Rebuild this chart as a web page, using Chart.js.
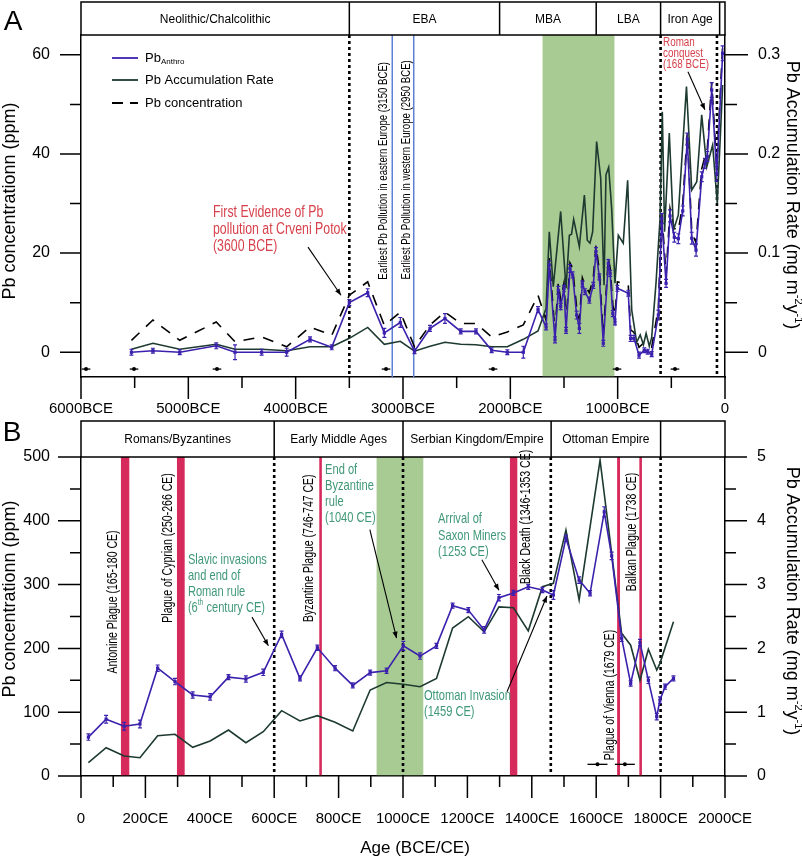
<!DOCTYPE html>
<html>
<head>
<meta charset="utf-8">
<title>Pb record</title>
<script src="https://cdn.jsdelivr.net/npm/chart.js@4.4.1/dist/chart.umd.min.js"></script>
<style>
  html, body { margin: 0; padding: 0; background: #fff; }
  #page { position: relative; width: 802px; height: 857px; overflow: hidden; }
  canvas { position: absolute; left: 0; }
  #graphicA { top: 0; }
  #graphicB { top: 420px; }
</style>
</head>
<body>
<div id="page">
  <canvas id="graphicA" width="802" height="430"></canvas>
  <canvas id="graphicB" width="802" height="437"></canvas>
</div>
<script>
const FONT = 'Arial, "Liberation Sans", Helvetica, sans-serif';
Chart.defaults.font.family = FONT;
Chart.defaults.color = "#000";

const BLUE = "#3b21ad";
const DARK = "#1d3a30";
const RED_TXT = "#d7424c";
const GREEN_TXT = "#3f9877";
const PLAGUE = "#d62a5c";
const GREEN_BAND = "#a8cb93";

// ---------- panel A (BCE years as negatives) ----------
const yearsAnthroA = [
  -5530, -5330, -5080, -4740, -4565, -4317, -4084, -3866, -3664, -3500,
  -3329, -3174, -3025, -2893, -2748, -2609, -2462, -2320, -2174, -2028,
  -1879, -1742, -1667, -1637, -1584, -1553, -1531, -1500, -1481, -1444,
  -1420, -1382, -1357, -1329, -1304, -1264, -1227, -1202, -1171, -1134,
  -1087, -1070, -1045, -1025, -1003, -901, -879, -848, -801, -752,
  -720, -683, -621, -590, -549, -512, -472, -435, -394, -351,
  -310, -270, -217, -186, -165, -124, -77, -22];
const anthroA = [
  0, 0.3, 0, 1.3, 0, 0, 0, 2.6, 1.0, 10,
  12, 3.9, 6, 0.2, 4.8, 6.8, 4.2, 4.2, 0.4, 0,
  0, 8.6, 5.1, 17.6, 2.5, 12.5, 9.2, 12.9, 4.4, 16.9,
  15.6, 7.5, 4.8, 13.8, 12.2, 10.5, 13.5, 20.3, 15.2, 1.8,
  17.9, 15.9, 7.8, 6.1, 12.9, 11.9, 2.8, 2.8, -0.6, 0.4,
  0.1, -0.4, 7.5, 27, 13.9, 27.5, 23.2, 22.9, 28.5, 43,
  23, 20.6, 35.4, 38.1, 39.5, 52.9, 36, 60.3];
const errAnthroA = [
  0.6, 0.5, 0.5, 0.6, 1.5, 0.6, 0.8, 0.5, 0.5, 0.6,
  0.8, 0.9, 1.0, 0.5, 0.6, 1.0, 0.5, 0.5, 0.5, 0.5,
  1.2, 0.6, 0.6, 0.8, 0.6, 0.8, 0.6, 0.6, 0.6, 0.8,
  0.6, 0.8, 1.0, 0.6, 0.6, 0.6, 0.6, 0.8, 0.6, 0.6,
  0.8, 0.6, 0.6, 0.6, 0.6, 0.6, 0.6, 0.6, 0.6, 0.5,
  0.5, 0.5, 1.0, 1.0, 0.8, 1.2, 1.0, 1.0, 1.0, 1.2,
  1.2, 1.2, 1.0, 1.0, 1.0, 1.5, 1.5, 1.5];
const yearsConcA = yearsAnthroA;
const concA = [
  2.4, 6.5, 2.4, 6.1, 2.1, 3.1, 1.1, 5.1, 3.4, 11.5,
  14.2, 5.4, 8.1, 1.1, 5.5, 8.1, 5.8, 5.8, 3.1, 4.1,
  5.5, 11.5, 6.5, 19, 4, 14, 10.5, 14, 6, 18,
  17, 9, 6.5, 15, 13.5, 12, 15, 21.5, 16.5, 3.5,
  19, 17, 9.5, 7.5, 14.2, 13.5, 4.5, 4, 1, 2,
  1.5, 1, 9, 28.5, 15.5, 29, 25, 24.5, 30, 44.5,
  24.5, 22, 37, 39.5, 41, 54.5, 37.5, 62];
const yearsRateA = [
  -5530, -5330, -5080, -4740, -4565, -4317, -4084, -3866, -3664, -3500,
  -3329, -3174, -3025, -2893, -2748, -2609, -2462, -2320, -2174, -2028,
  -1879, -1742, -1667, -1637, -1600, -1531, -1481, -1450, -1430, -1410,
  -1357, -1310, -1283, -1258, -1233, -1196, -1158, -1127, -1109, -1084,
  -1056, -1025, -994, -948, -907, -869, -823, -790, -760, -735,
  -705, -683, -643, -605, -584, -563, -519, -480, -435, -359,
  -310, -263, -217, -170, -115, -72, -22];
const rateA = [
  0.003, 0.009, 0.003, 0.008, 0.003, 0.003, 0.0015, 0.0055, 0.0055, 0.014,
  0.025, 0.008, 0.011, 0.001, 0.006, 0.010, 0.008, 0.0075, 0.0055, 0.0055,
  0.013, 0.0215, 0.044, 0.1215, 0.066, 0.142, 0.0645, 0.118, 0.119, 0.134,
  0.1065, 0.1585, 0.113, 0.11, 0.1215, 0.2125, 0.1755, 0.0675, 0.179, 0.1865,
  0.145, 0.0695, 0.118, 0.11, 0.1735, 0.0425, 0.01, 0.0175, 0.0075, 0.019,
  0.006, 0.015, 0.0695, 0.135, 0.2425, 0.1215, 0.221, 0.123, 0.1385, 0.268,
  0.1635, 0.172, 0.2395, 0.187, 0.209, 0.15, 0.2695];
const ageMarksA = [-5953, -5506, -4733, -3158, -2161, -1006, -466];

const periodEdgesA = [-6000, -3500, -2100, -1200, -600, -50, 0];
const periodNamesA = ["Neolithic/Chalcolithic", "EBA", "MBA", "LBA", "Iron Age", ""];

// ---------- panel B (CE) ----------
const yearsAnthroB = [
  23, 78, 134, 183, 238, 292, 347, 401, 458, 512,
  566, 623, 680, 734, 789, 844, 898, 949, 1001, 1053,
  1104, 1154, 1203, 1252, 1298, 1343, 1389, 1433, 1467, 1506,
  1547, 1581, 1625, 1648, 1679, 1707, 1736, 1762, 1788, 1798,
  1814, 1840];
const anthroB = [
  61, 89, 78, 81.5, 169, 148, 127, 124, 155, 152,
  162.5, 222, 153, 201, 169, 142, 162, 165, 204, 188,
  204, 267, 260, 229, 279.5, 287, 296.5, 291.5, 283.7, 372.6,
  307, 286.4, 414, 345, 216, 145, 209, 150, 93, 119,
  140, 153];
const errAnthroB = [
  5, 6, 6, 6, 5, 5, 5, 5, 4, 5,
  5, 5, 4, 4, 4, 4, 4, 4, 7, 5,
  4, 4, 4, 5, 5, 4, 4, 4, 7, 5,
  5, 4, 8, 6, 5, 4, 5, 5, 5, 5,
  4, 4];
const yearsRateB = [
  23, 78, 134, 183, 238, 292, 347, 401, 458, 512,
  566, 623, 680, 734, 789, 844, 898, 949, 1001, 1053,
  1104, 1154, 1203, 1252, 1298, 1343, 1389, 1433, 1467, 1506,
  1547, 1612, 1679, 1707, 1736, 1762, 1788, 1798, 1840];
const rateB = [
  0.208, 0.444, 0.313, 0.287, 0.632, 0.654, 0.45, 0.549, 0.72, 0.522,
  0.694, 1.024, 0.862, 0.945, 0.842, 0.705, 1.348, 1.466, 1.437, 1.4,
  1.53, 2.32, 2.497, 2.26, 2.65, 2.638, 2.275, 2.967, 3.02, 3.856,
  2.76, 4.95, 2.237, 2.05, 1.5, 1.986, 1.66, 1.766, 2.418];
const ageMarksB = [1604, 1689];

const periodEdgesB = [0, 600, 1000, 1460, 1800, 2000];
const periodNamesB = ["Romans/Byzantines", "Early Middle Ages", "Serbian Kingdom/Empire", "Ottoman Empire", ""];

const plagues = [[124, 150], [298, 322], [740, 748], [1332, 1355], [1665, 1674], [1734, 1742]];

// ---------- helpers ----------
const pts = (xs, ys) => xs.map((x, i) => ({ x, y: ys[i] }));

function rich(ctx, segs, x, y, size, align) {
  const small = Math.round(size * 0.62);
  let w = 0;
  segs.forEach(([t, m]) => { ctx.font = (m ? small : size) + "px " + FONT; w += ctx.measureText(t).width; });
  let cx = align === "center" ? x - w / 2 : x;
  ctx.textAlign = "left";
  ctx.textBaseline = "middle";
  segs.forEach(([t, m]) => {
    ctx.font = (m ? small : size) + "px " + FONT;
    const dy = m === 1 ? -size * 0.35 : m === -1 ? size * 0.3 : 0;
    ctx.fillText(t, cx, y + dy);
    cx += ctx.measureText(t).width;
  });
}

function arrow(ctx, x1, y1, x2, y2) {
  ctx.beginPath(); ctx.moveTo(x1, y1); ctx.lineTo(x2, y2); ctx.stroke();
  const a = Math.atan2(y2 - y1, x2 - x1), L = 7, w = 0.38;
  ctx.beginPath();
  ctx.moveTo(x2, y2);
  ctx.lineTo(x2 - L * Math.cos(a - w), y2 - L * Math.sin(a - w));
  ctx.lineTo(x2 - L * Math.cos(a + w), y2 - L * Math.sin(a + w));
  ctx.closePath(); ctx.fill();
}

// fixed axis boxes so the plot area sits where the figure has it
function noPad(s) { s.paddingTop = 0; s.paddingBottom = 0; s.paddingLeft = 0; s.paddingRight = 0; }

function axisX(min, max, step, height, pad, fmt) {
  return {
    type: "linear", min, max,
    afterFit: s => { s.height = height; noPad(s); },
    grid: { drawOnChartArea: false, drawTicks: false },
    border: { color: "#000", width: 1.5 },
    ticks: { stepSize: step, autoSkip: false, maxRotation: 0, padding: pad, color: "#000", font: { size: 15 }, callback: fmt }
  };
}
function axisY(pos, min, max, step, width, pad, fmt) {
  return {
    type: "linear", position: pos, min, max,
    afterFit: s => { s.width = width; noPad(s); },
    grid: { drawOnChartArea: false, drawTicks: false },
    border: { color: "#000", width: 1.5 },
    ticks: { stepSize: step, includeBounds: false, autoSkip: false, padding: pad, color: "#000", font: { size: 16 }, callback: fmt }
  };
}

function backdrop(bands, lines) {
  return {
    id: "backdrop",
    beforeDatasetsDraw(chart) {
      const { ctx, chartArea: a, scales: { x } } = chart;
      ctx.save();
      bands.forEach(b => {
        const l = x.getPixelForValue(b.from), r = x.getPixelForValue(b.to);
        ctx.fillStyle = b.color;
        ctx.fillRect(l, a.top, r - l, a.bottom - a.top - 0.8);
      });
      lines.forEach(ln => {
        const p = x.getPixelForValue(ln.at);
        ctx.strokeStyle = ln.color; ctx.lineWidth = ln.width; ctx.setLineDash(ln.dash || []);
        ctx.beginPath(); ctx.moveTo(p, a.top); ctx.lineTo(p, a.bottom); ctx.stroke();
      });
      ctx.restore();
    }
  };
}

function header(edges, names, top) {
  return {
    id: "header",
    afterDraw(chart) {
      const { ctx, chartArea: a, scales: { x } } = chart;
      ctx.save();
      ctx.strokeStyle = "#000"; ctx.lineWidth = 1.5;
      ctx.strokeRect(a.left, top, a.right - a.left, a.top - top);
      ctx.beginPath();
      edges.slice(1, -1).forEach(e => { const p = x.getPixelForValue(e); ctx.moveTo(p, top); ctx.lineTo(p, a.top); });
      ctx.stroke();
      ctx.fillStyle = "#000"; ctx.font = "12px " + FONT; ctx.textAlign = "center"; ctx.textBaseline = "middle";
      names.forEach((n, i) => {
        const p0 = x.getPixelForValue(edges[i]), p1 = x.getPixelForValue(edges[i + 1]);
        ctx.fillText(n, (p0 + p1) / 2, (top + a.top) / 2 + 1);
      });
      ctx.restore();
    }
  };
}

function tickMarks(len) {
  return {
    id: "tickMarks",
    afterDraw(chart) {
      const ctx = chart.ctx;
      ctx.save(); ctx.strokeStyle = "#000"; ctx.lineWidth = 1.5; ctx.beginPath();
      Object.entries(len).forEach(([id, [major, minor]]) => {
        const s = chart.scales[id];
        s.ticks.forEach(t => {
          const p = s.getPixelForValue(t.value), l = t.label ? major : minor;
          if (id === "x") { ctx.moveTo(p, s.top); ctx.lineTo(p, s.top + l); }
          else if (s.position === "left") { ctx.moveTo(s.right - l, p); ctx.lineTo(s.right, p); }
          else { ctx.moveTo(s.left, p); ctx.lineTo(s.left + l, p); }
        });
      });
      ctx.stroke(); ctx.restore();
    }
  };
}

function whiskers(dsIndex, errors) {
  return {
    id: "whiskers",
    afterDatasetsDraw(chart) {
      const ctx = chart.ctx, meta = chart.getDatasetMeta(dsIndex), ys = chart.scales.y;
      const data = chart.data.datasets[dsIndex].data;
      ctx.save(); ctx.strokeStyle = BLUE; ctx.lineWidth = 1.2; ctx.beginPath();
      errors.forEach((e, i) => {
        const px = meta.data[i].x;
        const lo = ys.getPixelForValue(data[i].y - e), hi = ys.getPixelForValue(data[i].y + e);
        ctx.moveTo(px, lo); ctx.lineTo(px, hi);
        ctx.moveTo(px - 2, lo); ctx.lineTo(px + 2, lo);
        ctx.moveTo(px - 2, hi); ctx.lineTo(px + 2, hi);
      });
      ctx.stroke(); ctx.restore();
    }
  };
}

function ageMarks(years, level, half) {
  return {
    id: "ageMarks",
    afterDatasetsDraw(chart) {
      const { ctx, scales: { x, y } } = chart;
      const py = y.getPixelForValue(level);
      ctx.save(); ctx.strokeStyle = "#000"; ctx.fillStyle = "#000"; ctx.lineWidth = 1.3;
      years.forEach(yr => {
        ctx.beginPath();
        ctx.moveTo(x.getPixelForValue(yr - half), py); ctx.lineTo(x.getPixelForValue(yr + half), py);
        ctx.stroke();
        ctx.beginPath(); ctx.arc(x.getPixelForValue(yr), py, 2, 0, Math.PI * 2); ctx.fill();
      });
      ctx.restore();
    }
  };
}

function notes(texts, arrows) {
  return {
    id: "notes",
    afterDatasetsDraw(chart) {
      const { ctx, scales } = chart, xs = scales.x, ys = scales.y;
      ctx.save();
      texts.forEach(t => {
        ctx.save();
        ctx.translate(xs.getPixelForValue(t.x), ys.getPixelForValue(t.y));
        if (t.rot) ctx.rotate(t.rot * Math.PI / 180);
        ctx.scale(t.sx || 1, 1);
        ctx.fillStyle = t.color || "#000";
        t.lines.forEach((ln, i) => rich(ctx, typeof ln === "string" ? [[ln, 0]] : ln, 0, i * (t.lh || 0), t.size, t.align || "left"));
        ctx.restore();
      });
      ctx.strokeStyle = "#000"; ctx.fillStyle = "#000"; ctx.lineWidth = 1.1;
      arrows.forEach(([x1, y1, x2, y2]) => arrow(ctx,
        xs.getPixelForValue(x1), ys.getPixelForValue(y1), xs.getPixelForValue(x2), ys.getPixelForValue(y2)));
      ctx.restore();
    }
  };
}

function titles(o) {
  return {
    id: "titles",
    afterDraw(chart) {
      const ctx = chart.ctx;
      ctx.save(); ctx.fillStyle = "#000";
      ctx.font = "28px " + FONT; ctx.textAlign = "center"; ctx.textBaseline = "middle";
      ctx.fillText(o.letter, o.letterAt[0], o.letterAt[1]);
      ctx.save(); ctx.translate(o.leftAt[0], o.leftAt[1]); ctx.rotate(-Math.PI / 2);
      rich(ctx, [["Pb concentrationn (ppm)", 0]], 0, 0, 18, "center");
      ctx.restore();
      ctx.save(); ctx.translate(o.rightAt[0], o.rightAt[1]); ctx.rotate(Math.PI / 2);
      rich(ctx, [["Pb Accumulation Rate (mg m", 0], ["-2", 1], ["y", 0], ["-1", 1], [")", 0]], 0, 0, 18, "center");
      ctx.restore();
      if (o.xTitle) rich(ctx, [[o.xTitle, 0]], o.xTitleAt[0], o.xTitleAt[1], 17, "center");
      ctx.restore();
    }
  };
}

const legendA = {
  id: "legendA",
  afterDraw(chart) {
    const { ctx, chartArea: a } = chart;
    const x0 = a.left + 31, x1 = a.left + 57, tx = a.left + 64;
    const rows = [a.top + 23, a.top + 45, a.top + 68];
    const seg = (c, y, dash) => {
      ctx.strokeStyle = c; ctx.setLineDash(dash);
      ctx.beginPath(); ctx.moveTo(x0, y); ctx.lineTo(x1, y); ctx.stroke();
    };
    ctx.save(); ctx.lineWidth = 1.8;
    seg(BLUE, rows[0], []);
    seg(DARK, rows[1], []);
    seg("#000", rows[2], [11, 7]);
    ctx.setLineDash([]);
    ctx.fillStyle = "#000";
    rich(ctx, [["Pb", 0], ["Anthro", -1]], tx, rows[0], 13, "left");
    rich(ctx, [["Pb Accumulation Rate", 0]], tx, rows[1], 13, "left");
    rich(ctx, [["Pb concentration", 0]], tx, rows[2], 13, "left");
    ctx.restore();
  }
};

function seriesSets(yAnthro, anthro, yRate, rate, yConc, conc) {
  const sets = [
    { label: "PbAnthro", data: pts(yAnthro, anthro), yAxisID: "y", borderColor: BLUE, backgroundColor: BLUE,
      borderWidth: 1.6, pointStyle: "rect", pointRadius: 2.3, pointBorderWidth: 0 },
    { label: "Pb Accumulation Rate", data: pts(yRate, rate), yAxisID: "y2", borderColor: DARK,
      borderWidth: 1.6, pointRadius: 0 }
  ];
  if (conc) sets.push({ label: "Pb concentration", data: pts(yConc, conc), yAxisID: "y", borderColor: "#000",
    borderWidth: 1.6, borderDash: [11, 9], pointRadius: 0 });
  return sets;
}

// ---------- panel A ----------
const textsA = [
  { lines: ["First Evidence of Pb", "pollution at Crveni Potok", "(3600 BCE)"], x: -4770, y: 28.1, lh: 17, size: 16, sx: 0.77, color: RED_TXT },
  { lines: ["Earliest Pb Pollution in eastern Europe (3150 BCE)"], x: -3186, y: 36.6, size: 13, sx: 0.74, rot: -90, align: "center" },
  { lines: ["Earliest Pb Pollution in western Europe (2950 BCE)"], x: -2972, y: 36.8, size: 13, sx: 0.74, rot: -90, align: "center" },
  { lines: ["Roman", "conquest", "(168 BCE)"], x: -577, y: 62.4, lh: 10.8, size: 12, sx: 0.82, color: RED_TXT }
];
const arrowsA = [[-3885, 21.2, -3578, 11.5], [-345, 56.6, -187, 48.9]];

new Chart(document.getElementById("graphicA"), {
  type: "line",
  data: { datasets: seriesSets(yearsAnthroA, anthroA, yearsRateA, rateA, yearsConcA, concA) },
  options: {
    responsive: false, animation: false,
    layout: { padding: { top: 35, left: 0, right: 0, bottom: 0 } },
    plugins: { legend: { display: false }, tooltip: { enabled: false } },
    scales: {
      x: axisX(-6000, 0, 500, 53, 23, v => v === 0 ? "0" : (v % 1000 === 0 ? (-v) + "BCE" : "")),
      y: axisY("left", -5, 64, 10, 81, 31, v => v % 20 === 0 ? String(v) : ""),
      y2: axisY("right", -0.025, 0.32, 0.05, 77, 33, v => { const k = Math.round(v * 100); return k % 10 === 0 ? String(k / 100) : ""; })
    }
  },
  plugins: [
    backdrop([{ from: -1700, to: -1030, color: GREEN_BAND }], [
      { at: -3500, color: "#000", width: 2.6, dash: [3, 3] },
      { at: -600, color: "#000", width: 2.6, dash: [3, 3] },
      { at: -75, color: "#000", width: 2.6, dash: [3, 3] },
      { at: -3100, color: "#5b7fd4", width: 1.5 },
      { at: -2900, color: "#5b7fd4", width: 1.5 }
    ]),
    whiskers(0, errAnthroA),
    ageMarks(ageMarksA, -3.4, 40),
    notes(textsA, arrowsA),
    header(periodEdgesA, periodNamesA, 2),
    tickMarks({ x: [22, 11], y: [21, 11], y2: [23, 12] }),
    legendA,
    titles({ letter: "A", letterAt: [13, 22], leftAt: [10, 201], rightAt: [792, 195] })
  ]
});

// ---------- panel B ----------
const textsB = [
  { lines: ["Antonine Plague (165-180 CE)"], x: 99, y: 272.7, size: 14, sx: 0.75, rot: -90, align: "center" },
  { lines: ["Plague of Cyprian (250-266 CE)"], x: 270, y: 357.4, size: 14, sx: 0.75, rot: -90, align: "center" },
  { lines: ["Byzantine Plague (746-747 CE)"], x: 708, y: 357, size: 14, sx: 0.75, rot: -90, align: "center" },
  { lines: ["Black Death (1346-1353 CE)"], x: 1382, y: 406, size: 14, sx: 0.75, rot: -90, align: "center" },
  { lines: ["Balkan Plague (1738 CE)"], x: 1711, y: 382.4, size: 14, sx: 0.75, rot: -90, align: "center" },
  { lines: ["Plague of Vienna (1679 CE)"], x: 1643, y: 127, size: 14, sx: 0.75, rot: -90, align: "center" },
  { lines: ["Slavic invasions", "and end of", "Roman rule", [["(6", 0], ["th", 1], [" century CE)", 0]]], x: 332, y: 338.6, lh: 16, size: 15, sx: 0.74, color: GREEN_TXT },
  { lines: ["End of", "Byzantine", "rule", "(1040 CE)"], x: 758, y: 479.6, lh: 16, size: 15, sx: 0.74, color: GREEN_TXT },
  { lines: ["Arrival of", "Saxon Miners", "(1253 CE)"], x: 1109, y: 402.8, lh: 16.5, size: 15, sx: 0.74, color: GREEN_TXT },
  { lines: ["Ottoman Invasion", "(1459 CE)"], x: 1065, y: 125.4, lh: 16, size: 15, sx: 0.74, color: GREEN_TXT }
];
const arrowsB = [[531, 249, 582, 204], [897, 386, 980, 216], [1245, 339, 1298, 291], [1323, 132, 1447, 282]];

new Chart(document.getElementById("graphicB"), {
  type: "line",
  data: { datasets: seriesSets(yearsAnthroB, anthroB, yearsRateB, rateB) },
  options: {
    responsive: false, animation: false,
    layout: { padding: { top: 37, left: 0, right: 0, bottom: 0 } },
    plugins: { legend: { display: false }, tooltip: { enabled: false } },
    scales: {
      x: axisX(0, 2000, 100, 81, 34, v => v === 0 ? "0" : (v % 200 === 0 ? v + "CE" : "")),
      y: axisY("left", 0, 500, 50, 81, 31, v => v % 100 === 0 ? String(v) : ""),
      y2: axisY("right", 0, 5, 0.5, 77, 32, v => Math.abs(v - Math.round(v)) < 1e-9 ? String(Math.round(v)) : "")
    }
  },
  plugins: [
    backdrop(
      plagues.map(([from, to]) => ({ from, to, color: PLAGUE })).concat([{ from: 918, to: 1063, color: GREEN_BAND }]),
      [600, 1000, 1459, 1800].map(at => ({ at, color: "#000", width: 2.6, dash: [3, 3] }))
    ),
    whiskers(0, errAnthroB),
    ageMarks(ageMarksB, 18.3, 31),
    notes(textsB, arrowsB),
    header(periodEdgesB, periodNamesB, 1),
    tickMarks({ x: [22, 11], y: [23, 11], y2: [22, 11] }),
    titles({ letter: "B", letterAt: [12, 13], leftAt: [10, 179], rightAt: [792, 181], xTitle: "Age (BCE/CE)", xTitleAt: [415, 428] })
  ]
});
</script>
</body>
</html>
